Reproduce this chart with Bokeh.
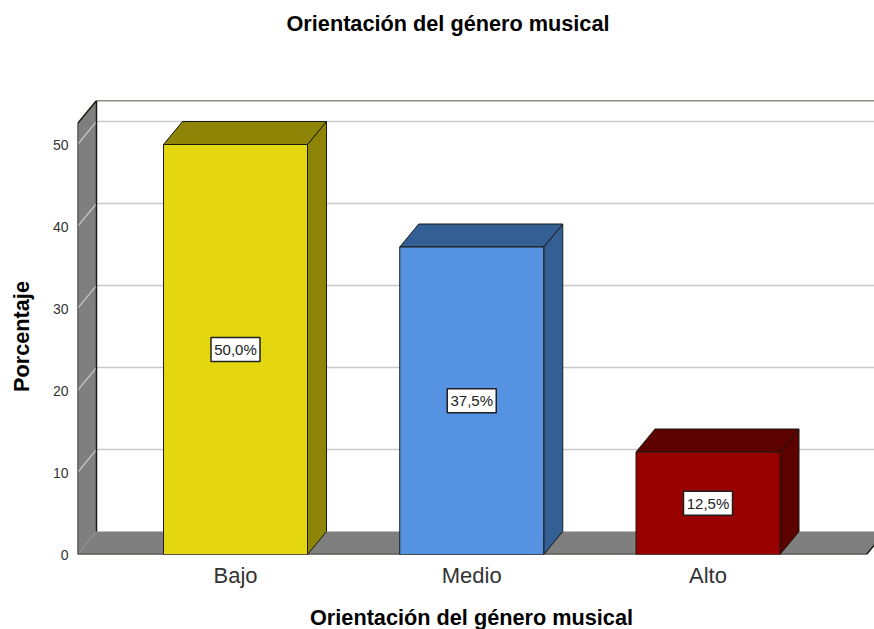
from math import pi
from bokeh.plotting import figure
from bokeh.embed import file_html
from bokeh.resources import INLINE
from bokeh.models import Range1d, FixedTicker, Title, Label
from bokeh.core.properties import value

categories = ["Bajo", "Medio", "Alto"]
percent = [50.0, 37.5, 12.5]
bar_labels = ["50,0%", "37,5%", "12,5%"]
y_ticks = [0, 10, 20, 30, 40, 50]
front_colors = ["#e4d70f", "#5593e2", "#990000"]
dark_colors = ["#8e8406", "#335f95", "#5c0000"]
title_text = "Orientación del género musical"
x_title = "Orientación del género musical"
y_title = "Porcentaje"

FONT = "Liberation Sans"
W, H = 874, 629
PX_X = 236.25   # pixels per category
PX_Y = 8.2      # pixels per percent unit
DX = 19 / PX_X  # depth of the 3D box
DY = 23 / PX_Y
HW = 72 / PX_X  # half bar width
X0 = -158 / PX_X
X_R = 631 / PX_X  # right end of the floor front edge
X_END = 639 / PX_X
Y_END = 454 / PX_Y
WALL = "#7f7f7f"
EDGE = "#1a1a10"

p = figure(width=W, height=H, output_backend="svg", toolbar_location=None,
           x_range=Range1d(X0, X_END), y_range=Range1d(0, Y_END),
           min_border_left=77, min_border_right=0, min_border_top=100, min_border_bottom=75,
           background_fill_color="white", border_fill_color="white", outline_line_color=None)
p.grid.visible = False

p.title = Title(text=title_text, align="left", offset=209, standoff=0,
                text_font=FONT, text_font_size="21.7px", text_font_style="bold",
                text_color="#000000")
p.add_layout(Title(text=" ", standoff=38, text_font_size="21.7px"), "above")

# back wall top edge and gridlines
p.segment(X0 + DX, Y_END - 0.02, X_END, Y_END - 0.02, line_color=EDGE, line_width=1.2)
p.multi_line([[X0 + DX, X_END] for v in y_ticks[1:]],
             [[v + DY, v + DY] for v in y_ticks[1:]], line_color="#c9c9c9", line_width=1.6)

# floor and left wall
p.patch([X0, X_R, X_R + DX, X0 + DX], [0, 0, DY, DY], fill_color=WALL, line_color=None)
p.patch([X0, X0 + DX, X0 + DX, X0], [0, DY, Y_END, Y_END - DY],
        fill_color=WALL, line_color=None)
p.multi_line([[X0, X0 + DX] for v in y_ticks[1:]], [[v, v + DY] for v in y_ticks[1:]],
             line_color="#c4c4c4", line_width=1.2)
p.line([X0, X0, X0 + DX, X0 + DX], [0, Y_END - DY, Y_END, DY], line_color=EDGE, line_width=1.5)
p.line([X0, X_R, X_R + DX], [0, 0, DY], line_color=EDGE, line_width=1.5)

# bars
for i, v in enumerate(percent):
    l, r = i - HW, i + HW
    p.patch([r, r + DX, r + DX, r], [0, DY, v + DY, v],
            fill_color=dark_colors[i], line_color=EDGE, line_width=1)
    p.patch([l, r, r + DX, l + DX], [v, v, v + DY, v + DY],
            fill_color=dark_colors[i], line_color=EDGE, line_width=1)
    p.quad(left=l, right=r, bottom=0, top=v,
           fill_color=front_colors[i], line_color=EDGE, line_width=1)

# value labels
xs = list(range(len(categories)))
mids = [v / 2 for v in percent]
p.rect(xs, mids, width=49, height=24, width_units="screen", height_units="screen",
       fill_color="white", line_color="#202020", line_width=1.5)
p.text(xs, mids, text=bar_labels, text_align="center", text_baseline="middle",
       text_font=value(FONT), text_font_size="15px", text_color="#222222")

# axes
xa = p.xaxis[0]
xa.ticker = FixedTicker(ticks=xs)
xa.major_label_overrides = {i: c for i, c in enumerate(categories)}
xa.major_label_text_font = FONT
xa.major_label_text_font_size = "22px"
xa.major_label_text_color = "#333333"
xa.major_label_standoff = 8
xa.major_tick_out = 0
xa.axis_line_color = None
xa.major_tick_line_color = None
xa.minor_tick_line_color = None

ya = p.yaxis[0]
ya.ticker = FixedTicker(ticks=y_ticks)
ya.major_label_text_font = FONT
ya.major_label_text_font_size = "14px"
ya.major_label_text_color = "#333333"
ya.major_label_standoff = 9
ya.major_tick_out = 0
ya.axis_line_color = None
ya.major_tick_line_color = None
ya.minor_tick_line_color = None

# axis titles in the side panels, so they lie outside the frame
p.add_layout(Label(x=394, y=-2, x_units="screen", y_units="screen", text=x_title,
                   text_align="center", text_baseline="middle", text_font=FONT,
                   text_font_size="21.7px", text_font_style="bold", text_color="#000000"),
             "below")
p.add_layout(Label(x=-3, y=218, x_units="screen", y_units="screen", text=y_title,
                   angle=pi / 2, text_align="center", text_baseline="middle", text_font=FONT,
                   text_font_size="21.7px", text_font_style="bold", text_color="#000000"),
             "left")

open("out.html", "w").write(file_html(p, INLINE))
